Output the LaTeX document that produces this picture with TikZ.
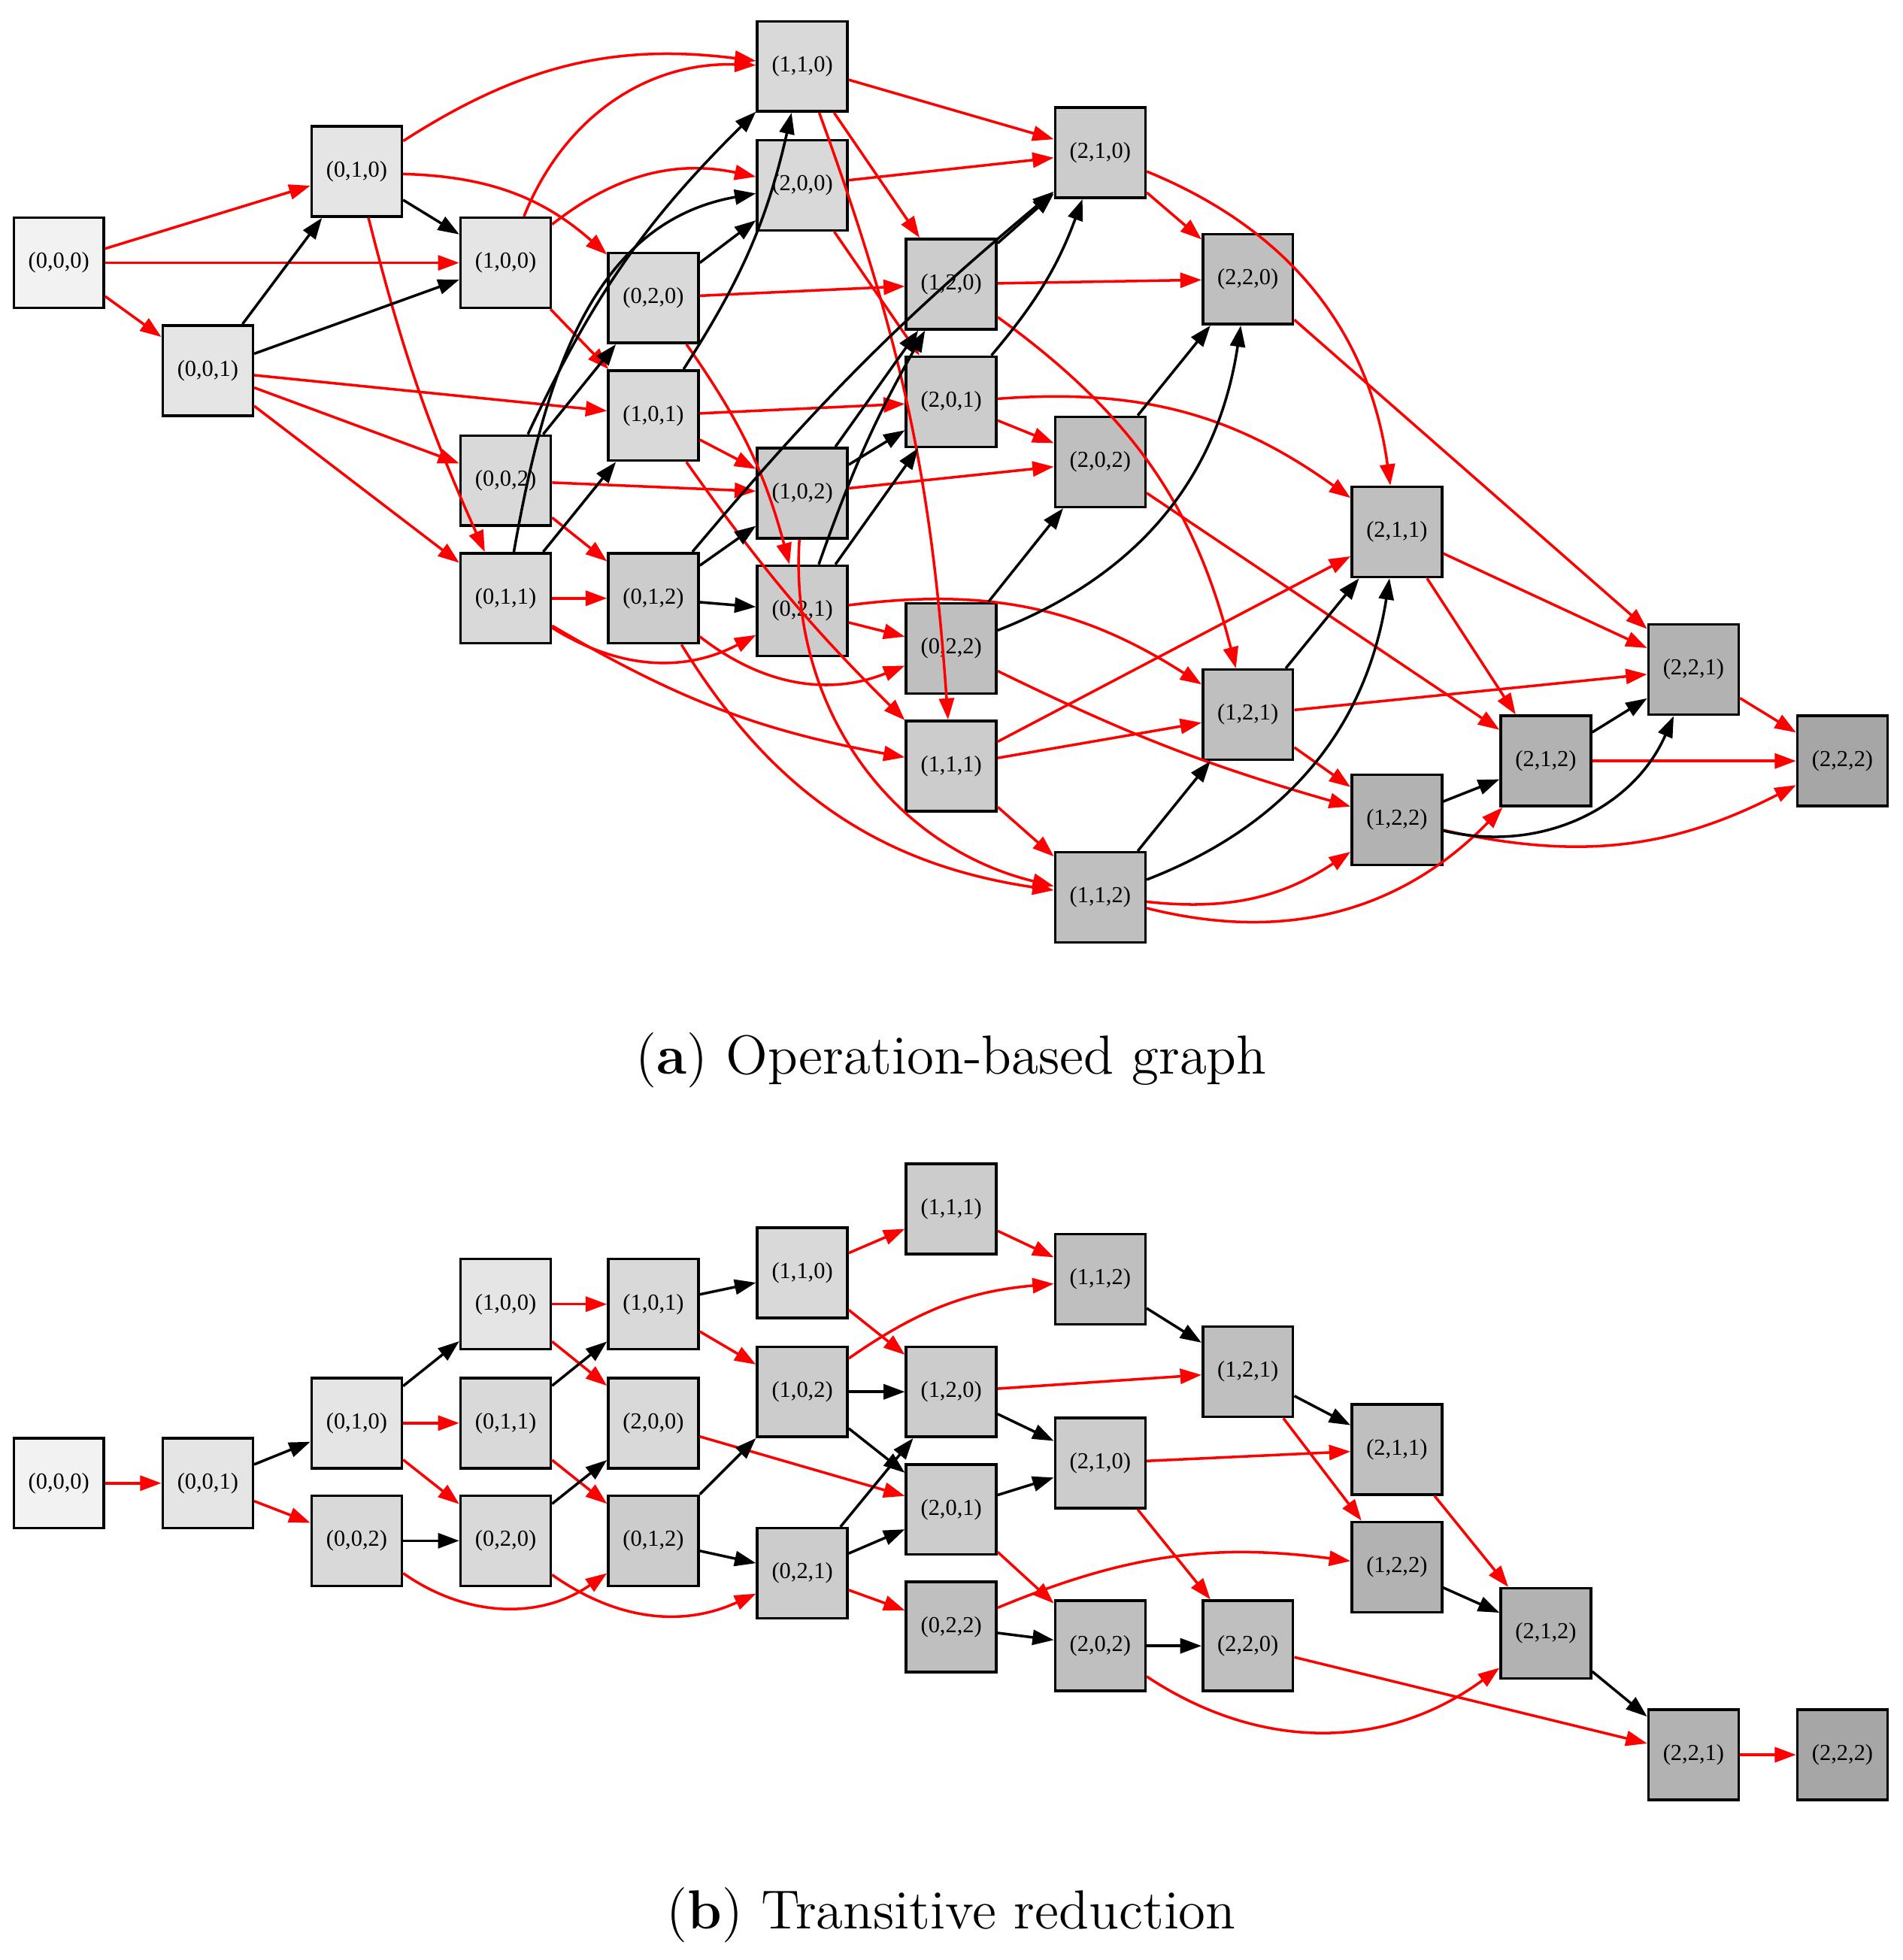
\documentclass[tikz,border=0pt]{standalone}
\usepackage{fontspec}
\newfontfamily\nodefont{Liberation Serif}
\usetikzlibrary{arrows.meta}
\begin{document}
\begin{tikzpicture}[x=0.01cm,y=-0.01cm]
\tikzset{
	st/.style={draw=black, line width=0.6pt, minimum size=0.72cm, inner sep=0pt, font=\nodefont\fontsize{5.2}{6}\selectfont},
	s0/.style={st, fill=black!5},
	s1/.style={st, fill=black!10},
	s2/.style={st, fill=black!15},
	s3/.style={st, fill=black!20},
	s4/.style={st, fill=black!25},
	s5/.style={st, fill=black!30},
	s6/.style={st, fill=black!35},
	r/.style={->, >={Triangle[length=1.7mm,width=1.2mm]}, red, line width=0.6pt},
	k/.style={->, >={Triangle[length=1.7mm,width=1.2mm]}, black, line width=0.6pt}
}
\useasboundingbox (0,0) rectangle (1520,1566);

% (a) 节点
\node[s0] (a000) at(47,210) {(0,0,0)};
\node[s1] (a001) at(166,296) {(0,0,1)};
\node[s1] (a010) at(285,137) {(0,1,0)};
\node[s1] (a100) at(404,210) {(1,0,0)};
\node[s2] (a002) at(404,384) {(0,0,2)};
\node[s2] (a011) at(404,478) {(0,1,1)};
\node[s2] (a020) at(522,238) {(0,2,0)};
\node[s2] (a101) at(522,332) {(1,0,1)};
\node[s3] (a012) at(522,478) {(0,1,2)};
\node[s2] (a110) at(641,53) {(1,1,0)};
\node[s2] (a200) at(641,148) {(2,0,0)};
\node[s3] (a102) at(641,394) {(1,0,2)};
\node[s3] (a021) at(641,488) {(0,2,1)};
\node[s3] (a120) at(760,227) {(1,2,0)};
\node[s3] (a201) at(760,321) {(2,0,1)};
\node[s4] (a022) at(760,518) {(0,2,2)};
\node[s3] (a111) at(760,612) {(1,1,1)};
\node[s3] (a210) at(879,122) {(2,1,0)};
\node[s4] (a202) at(879,369) {(2,0,2)};
\node[s4] (a112) at(879,717) {(1,1,2)};
\node[s4] (a220) at(997,223) {(2,2,0)};
\node[s4] (a121) at(997,571) {(1,2,1)};
\node[s4] (a211) at(1116,425) {(2,1,1)};
\node[s5] (a122) at(1116,655) {(1,2,2)};
\node[s5] (a212) at(1235,608) {(2,1,2)};
\node[s5] (a221) at(1353,535) {(2,2,1)};
\node[s6] (a222) at(1472,608) {(2,2,2)};

% (a) 红线
\draw[r] (a000) -- (a010);
\draw[r] (a000) -- (a100);
\draw[r] (a000) -- (a001);
\draw[r] (a001) -- (a101);
\draw[r] (a001) -- (a011);
\draw[r] (a001) -- (a002);
\draw[r] (a010) to[bend left=20] (a110);
\draw[r] (a010) to[bend left=20] (a020);
\draw[r] (a010) to[bend right=5] (a011);
\draw[r] (a100) to[bend left=35] (a110);
\draw[r] (a100) to[bend left=25] (a200);
\draw[r] (a100) -- (a101);
\draw[r] (a002) -- (a102);
\draw[r] (a002) -- (a012);
\draw[r] (a011) to[bend right=10] (a111);
\draw[r] (a011) to[bend right=30] (a021);
\draw[r] (a011) -- (a012);
\draw[r] (a020) -- (a120);
\draw[r] (a020) to[bend left=10] (a021);
\draw[r] (a101) -- (a201);
\draw[r] (a101) to[bend right=5] (a111);
\draw[r] (a101) -- (a102);
\draw[r] (a012) to[bend right=25] (a112);
\draw[r] (a012) to[bend right=30] (a022);
\draw[r] (a110) -- (a210);
\draw[r] (a110) -- (a120);
\draw[r] (a110) to[bend left=8] (a111);
\draw[r] (a200) -- (a210);
\draw[r] (a200) -- (a201);
\draw[r] (a102) -- (a202);
\draw[r] (a102) to[bend right=40] (a112);
\draw[r] (a021) to[bend left=20] (a121);
\draw[r] (a021) -- (a022);
\draw[r] (a120) -- (a220);
\draw[r] (a120) to[bend left=20] (a121);
\draw[r] (a201) to[bend left=20] (a211);
\draw[r] (a201) -- (a202);
\draw[r] (a022) to[bend right=5] (a122);
\draw[r] (a111) -- (a211);
\draw[r] (a111) -- (a121);
\draw[r] (a111) -- (a112);
\draw[r] (a210) -- (a220);
\draw[r] (a210) to[bend left=30] (a211);
\draw[r] (a202) -- (a212);
\draw[r] (a112) to[bend right=20] (a122);
\draw[r] (a112) to[bend right=30] (a212);
\draw[r] (a220) -- (a221);
\draw[r] (a121) -- (a221);
\draw[r] (a121) -- (a122);
\draw[r] (a211) -- (a221);
\draw[r] (a211) -- (a212);
\draw[r] (a122) to[bend right=20] (a222);
\draw[r] (a212) -- (a222);
\draw[r] (a221) -- (a222);

% (a) 黑线
\draw[k] (a001) -- (a010);
\draw[k] (a001) -- (a100);
\draw[k] (a010) -- (a100);
\draw[k] (a002) -- (a020);
\draw[k] (a002) to[bend left=10] (a110);
\draw[k] (a011) -- (a101);
\draw[k] (a011) to[out=80,in=190] (a200);
\draw[k] (a020) -- (a200);
\draw[k] (a101) to[bend right=10] (a110);
\draw[k] (a012) to[bend left=5] (a210);
\draw[k] (a012) -- (a102);
\draw[k] (a012) -- (a021);
\draw[k] (a102) -- (a120);
\draw[k] (a102) -- (a201);
\draw[k] (a021) to[bend left=5] (a120);
\draw[k] (a021) -- (a201);
\draw[k] (a120) -- (a210);
\draw[k] (a201) to[bend right=10] (a210);
\draw[k] (a022) -- (a202);
\draw[k] (a022) to[bend right=30] (a220);
\draw[k] (a202) -- (a220);
\draw[k] (a112) -- (a121);
\draw[k] (a112) to[bend right=30] (a211);
\draw[k] (a121) -- (a211);
\draw[k] (a122) -- (a212);
\draw[k] (a122) to[bend right=40] (a221);
\draw[k] (a212) -- (a221);

\node[font=\fontsize{12.5}{15}\selectfont] (capa) at(760,847) {(\textbf{a}) Operation-based graph};

% (b) 节点
\node[s0] (b000) at(47,1185) {(0,0,0)};
\node[s1] (b001) at(166,1185) {(0,0,1)};
\node[s1] (b010) at(285,1137) {(0,1,0)};
\node[s2] (b002) at(285,1231) {(0,0,2)};
\node[s1] (b100) at(404,1042) {(1,0,0)};
\node[s2] (b011) at(404,1137) {(0,1,1)};
\node[s2] (b020) at(404,1231) {(0,2,0)};
\node[s2] (b101) at(522,1042) {(1,0,1)};
\node[s2] (b200) at(522,1137) {(2,0,0)};
\node[s3] (b012) at(522,1231) {(0,1,2)};
\node[s2] (b110) at(641,1017) {(1,1,0)};
\node[s3] (b102) at(641,1112) {(1,0,2)};
\node[s3] (b021) at(641,1257) {(0,2,1)};
\node[s3] (b111) at(760,966) {(1,1,1)};
\node[s3] (b120) at(760,1112) {(1,2,0)};
\node[s3] (b201) at(760,1206) {(2,0,1)};
\node[s4] (b022) at(760,1300) {(0,2,2)};
\node[s4] (b112) at(879,1022) {(1,1,2)};
\node[s3] (b210) at(879,1169) {(2,1,0)};
\node[s4] (b202) at(879,1315) {(2,0,2)};
\node[s4] (b121) at(997,1096) {(1,2,1)};
\node[s4] (b220) at(997,1315) {(2,2,0)};
\node[s4] (b211) at(1116,1158) {(2,1,1)};
\node[s5] (b122) at(1116,1252) {(1,2,2)};
\node[s5] (b212) at(1235,1305) {(2,1,2)};
\node[s5] (b221) at(1353,1402) {(2,2,1)};
\node[s6] (b222) at(1472,1402) {(2,2,2)};

% (b) 连线
\draw[r] (b000) -- (b001);
\draw[k] (b001) -- (b010);
\draw[r] (b001) -- (b002);
\draw[k] (b010) -- (b100);
\draw[r] (b010) -- (b011);
\draw[r] (b010) -- (b020);
\draw[k] (b002) -- (b020);
\draw[r] (b002) to[bend right=35] (b012);
\draw[r] (b100) -- (b101);
\draw[r] (b100) -- (b200);
\draw[k] (b011) -- (b101);
\draw[r] (b011) -- (b012);
\draw[k] (b020) -- (b200);
\draw[r] (b020) to[bend right=30] (b021);
\draw[k] (b101) -- (b110);
\draw[r] (b101) -- (b102);
\draw[r] (b200) -- (b201);
\draw[k] (b012) -- (b102);
\draw[k] (b012) -- (b021);
\draw[r] (b110) -- (b111);
\draw[r] (b110) -- (b120);
\draw[k] (b102) -- (b120);
\draw[k] (b102) -- (b201);
\draw[r] (b102) to[bend left=15] (b112);
\draw[k] (b021) -- (b120);
\draw[k] (b021) -- (b201);
\draw[r] (b021) -- (b022);
\draw[r] (b111) -- (b112);
\draw[r] (b120) -- (b121);
\draw[k] (b120) -- (b210);
\draw[k] (b201) -- (b210);
\draw[r] (b201) -- (b202);
\draw[r] (b022) to[bend left=15] (b122);
\draw[k] (b022) -- (b202);
\draw[k] (b112) -- (b121);
\draw[r] (b210) -- (b211);
\draw[r] (b210) -- (b220);
\draw[k] (b202) -- (b220);
\draw[r] (b202) to[bend right=35] (b212);
\draw[k] (b121) -- (b211);
\draw[r] (b121) -- (b122);
\draw[r] (b220) -- (b221);
\draw[r] (b211) -- (b212);
\draw[k] (b122) -- (b212);
\draw[k] (b212) -- (b221);
\draw[r] (b221) -- (b222);

\node[font=\fontsize{12.5}{15}\selectfont] (capb) at(760,1530) {(\textbf{b}) Transitive reduction};
\end{tikzpicture}
\end{document}
